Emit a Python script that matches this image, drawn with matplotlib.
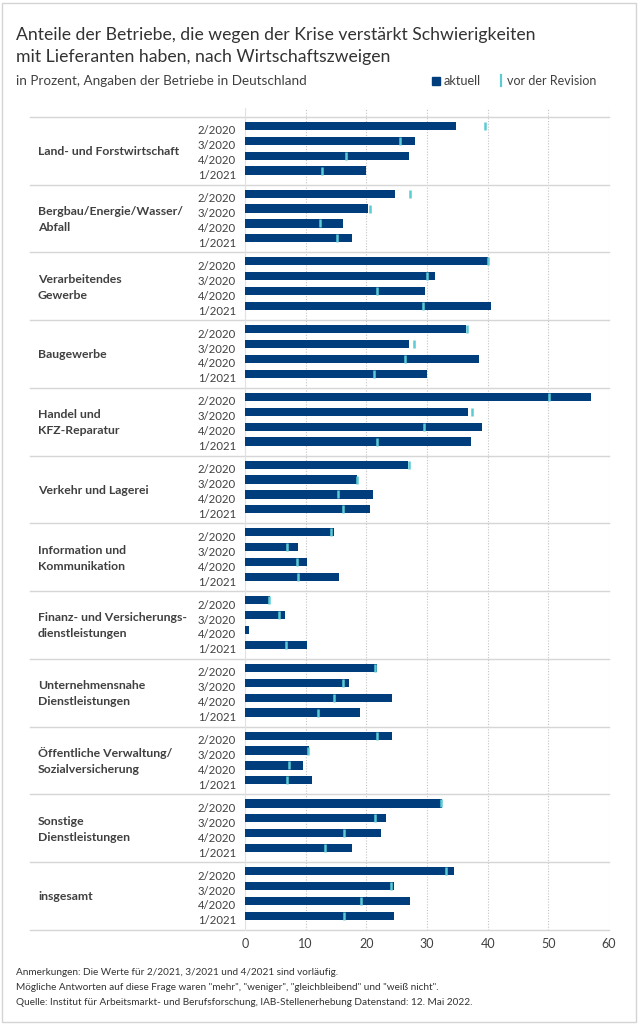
import numpy as np
import matplotlib
matplotlib.use("Agg")
import matplotlib.pyplot as plt
import matplotlib.transforms as mtransforms
from matplotlib.patches import Rectangle
from matplotlib.lines import Line2D

plt.rcParams['font.family'] = ['Lato', 'DejaVu Sans']

# --- data ---------------------------------------------------------------
branches = [
    "Land- und Forstwirtschaft",
    "Bergbau/Energie/Wasser/\nAbfall",
    "Verarbeitendes\nGewerbe",
    "Baugewerbe",
    "Handel und\nKFZ-Reparatur",
    "Verkehr und Lagerei",
    "Information und\nKommunikation",
    "Finanz- und Versicherungs-\ndienstleistungen",
    "Unternehmensnahe\nDienstleistungen",
    "Öffentliche Verwaltung/\nSozialversicherung",
    "Sonstige\nDienstleistungen",
    "insgesamt",
]
periods = ["2/2020", "3/2020", "4/2020", "1/2021"]

aktuell = [
    [34.7, 28.0, 27.0, 20.0],
    [24.8, 20.3, 16.1, 17.7],
    [40.0, 31.4, 29.6, 40.6],
    [36.4, 27.0, 38.5, 30.0],
    [57.0, 36.7, 39.0, 37.2],
    [26.9, 18.4, 21.1, 20.6],
    [14.6, 8.7, 10.3, 15.5],
    [4.1, 6.6, 0.7, 10.3],
    [21.7, 17.1, 24.3, 18.9],
    [24.2, 10.5, 9.5, 11.1],
    [32.5, 23.3, 22.4, 17.7],
    [34.4, 24.5, 27.2, 24.5],
]
vor_revision = [
    [39.6, 25.6, 16.6, 12.7],
    [27.2, 20.6, 12.3, 15.1],
    [40.0, 30.0, 21.8, 29.4],
    [36.6, 27.8, 26.4, 21.3],
    [50.1, 37.4, 29.5, 21.7],
    [27.0, 18.4, 15.3, 16.1],
    [14.2, 7.0, 8.6, 8.8],
    [4.0, 5.6, np.nan, 6.8],
    [21.4, 16.1, 14.6, 12.0],
    [21.7, 10.4, 7.2, 6.9],
    [32.3, 21.5, 16.3, 13.2],
    [33.1, 24.0, 19.2, 16.4],
]

NAVY = "#003d7c"
CYAN = "#5ccbd3"
TXT = "#404040"
LINE = "#d6d6d6"

W, H = 638, 1024
fig = plt.figure(figsize=(W / 100, H / 100), dpi=100)

def fx(px):
    return px / W

def fy(py):
    return 1 - py / H

# axes: x 245..609 px, y 108..930 px
ax = fig.add_axes([fx(245), fy(930), fx(609) - fx(245), fy(108) - fy(930)])

group_h = 4.55
top_pad = 0.6
n = len(branches)

ypos = []
for g in range(n):
    for j in range(len(periods)):
        ypos.append(g * group_h + top_pad + j)
ypos = np.array(ypos)
vals = np.array(aktuell).ravel()
revs = np.array(vor_revision).ravel()

ax.barh(ypos, vals, height=0.55, color=NAVY, zorder=3)
ax.plot(revs, ypos, linestyle="none", marker="|", markersize=6,
        markeredgewidth=1.8, color=CYAN, zorder=4)

ax.set_xlim(0, 60)
ax.set_ylim(n * group_h, -0.6)
ax.set_xticks(range(0, 61, 10))
ax.grid(axis="x", linestyle=(0, (1, 1.5)), color="#c4c4c4", linewidth=0.8, zorder=0)
for s in ["top", "right", "bottom"]:
    ax.spines[s].set_visible(False)
ax.spines["left"].set_color("#e2e2e2")
ax.spines["left"].set_linewidth(0.8)

ax.set_yticks(ypos)
ax.set_yticklabels(periods * n)
ax.tick_params(axis="y", length=0, pad=6.5, labelsize=8.2, labelcolor=TXT)
ax.tick_params(axis="x", length=0, pad=6, labelsize=9, labelcolor=TXT)
shift = mtransforms.ScaledTranslation(0, -4 / 100, fig.dpi_scale_trans)
for lbl in ax.get_yticklabels():
    lbl.set_transform(lbl.get_transform() + shift)

# group separators and labels
sep_tr = mtransforms.blended_transform_factory(fig.transFigure, ax.transData)
for g in range(n + 1):
    ax.add_line(Line2D([fx(30), fx(609)], [g * group_h, g * group_h],
                       transform=sep_tr, color=LINE, linewidth=1.0,
                       clip_on=False, zorder=2))
for g, name in enumerate(branches):
    ax.text(fx(38), g * group_h + group_h / 2 + 0.05, name, transform=sep_tr,
            ha="left", va="center", fontsize=8.8, fontweight="bold",
            color=TXT, linespacing=1.55)

# title, subtitle, legend
fig.text(fx(16), fy(40), "Anteile der Betriebe, die wegen der Krise verstärkt Schwierigkeiten",
         fontsize=12.7, color="#333333", va="baseline")
fig.text(fx(16), fy(62), "mit Lieferanten haben, nach Wirtschaftszweigen",
         fontsize=12.7, color="#333333", va="baseline")
fig.text(fx(16), fy(85), "in Prozent, Angaben der Betriebe in Deutschland",
         fontsize=9.7, color=TXT, va="baseline")

fig.patches.append(Rectangle((fx(432), fy(85)), fx(8), 8 / H,
                             transform=fig.transFigure, color=NAVY))
fig.text(fx(444), fy(85), "aktuell", fontsize=9.2, color=TXT, va="baseline")
fig.lines.append(Line2D([fx(501), fx(501)], [fy(86), fy(75)],
                        transform=fig.transFigure, color=CYAN, linewidth=1.6))
fig.text(fx(507), fy(85), "vor der Revision", fontsize=9.0, color=TXT, va="baseline")

# footer
notes = [
    "Anmerkungen: Die Werte für 2/2021, 3/2021 und 4/2021 sind vorläufig.",
    "Mögliche Antworten auf diese Frage waren \"mehr\", \"weniger\", \"gleichbleibend\" und \"weiß nicht\".",
    "Quelle: Institut für Arbeitsmarkt- und Berufsforschung, IAB-Stellenerhebung Datenstand: 12. Mai 2022.",
]
for i, line in enumerate(notes):
    fig.text(fx(16), fy(975 + i * 14.8), line, fontsize=7.2, color="#333333", va="baseline")

# outer frame
fig.patches.append(Rectangle((fx(2.5), fy(1021.5)), fx(633), (1019) / H,
                             transform=fig.transFigure, fill=False,
                             edgecolor="#d4d4d4", linewidth=1.0))

fig.savefig("out.png", dpi=100)
